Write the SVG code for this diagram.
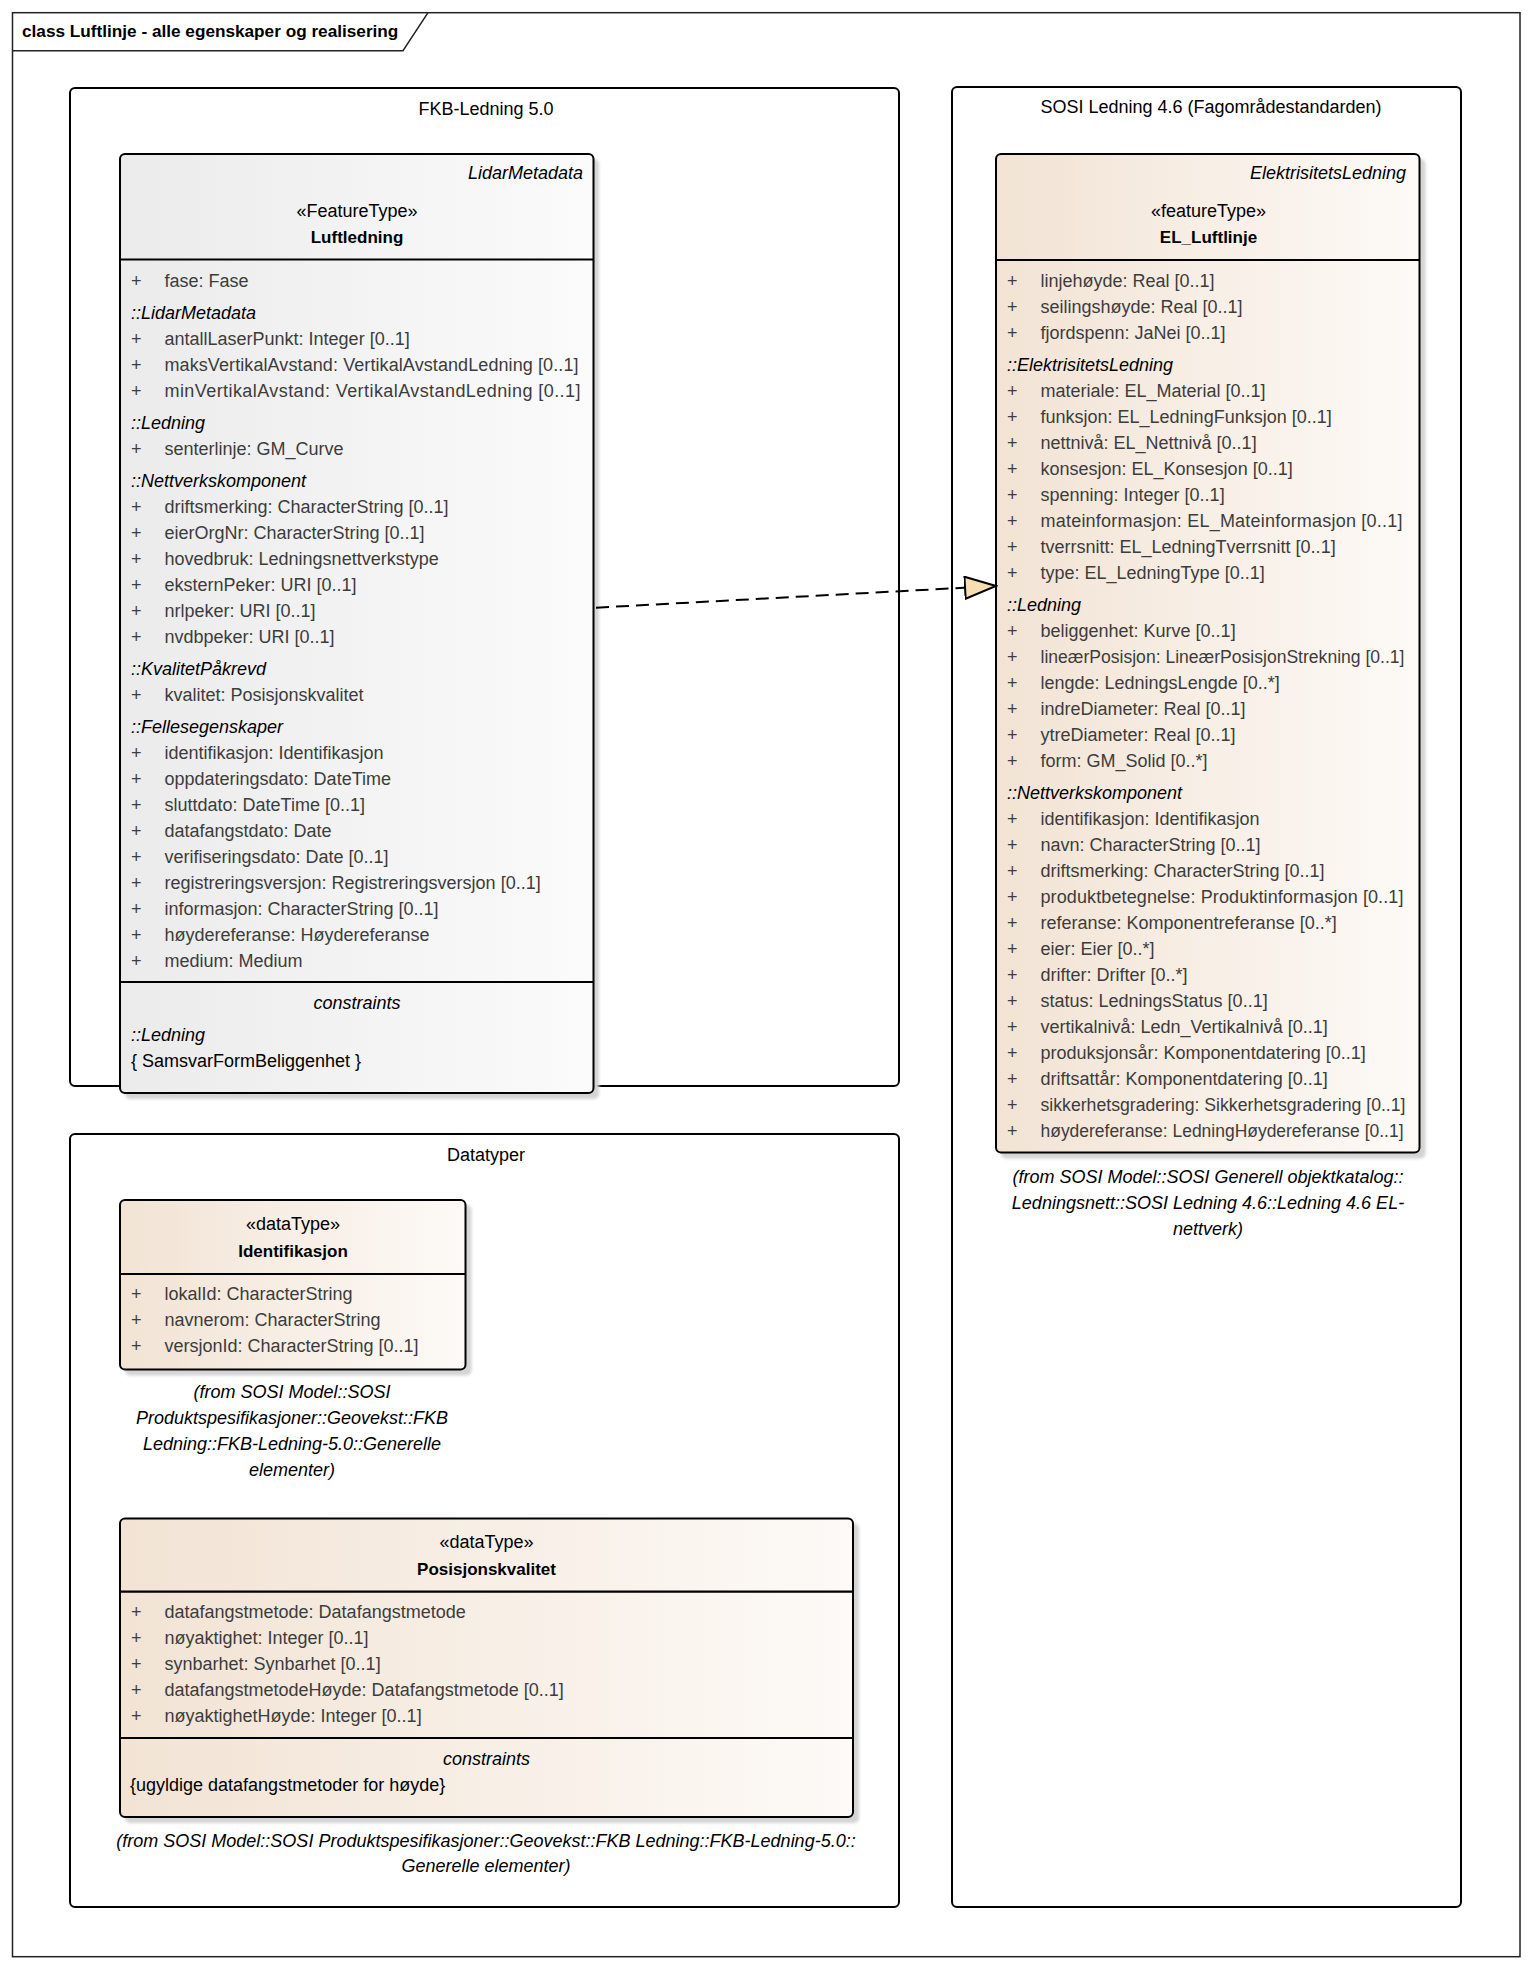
<svg xmlns="http://www.w3.org/2000/svg" width="1532" height="1968" viewBox="0 0 1532 1968">
<style>
text{font-family:"Liberation Sans",Arial,sans-serif;font-size:18px;fill:#000}
.a{fill:#3c3c3c}
.g{font-style:italic}
.c{text-anchor:middle}
.e{text-anchor:end;font-style:italic}
.b{font-weight:bold;font-size:17px;text-anchor:middle}
.t{font-weight:bold;font-size:17.2px}
.f{font-style:italic;text-anchor:middle}
.pkg{fill:none;stroke:#000;stroke-width:2}
.box{stroke:#000;stroke-width:2}
.sep{stroke:#000;stroke-width:2.2}
.sh{fill:#d4d4d4;filter:url(#blur)}
</style>
<defs>
<linearGradient id="gray" x1="0" y1="0" x2="1" y2="0"><stop offset="0" stop-color="#ebebeb"/><stop offset="1" stop-color="#fbfbfb"/></linearGradient>
<linearGradient id="beige" x1="0" y1="0" x2="1" y2="0"><stop offset="0" stop-color="#f2e3d4"/><stop offset="1" stop-color="#fdfaf7"/></linearGradient>
<filter id="blur" x="-5%" y="-5%" width="110%" height="110%"><feGaussianBlur stdDeviation="1.5"/></filter>
<marker id="real" markerWidth="34" markerHeight="26" refX="32" refY="12" orient="auto" markerUnits="userSpaceOnUse"><path d="M1,1 L32,12 L1,23 Z" fill="#f7deb2" stroke="#000" stroke-width="2"/></marker>
</defs>
<rect width="1532" height="1968" fill="#fff"/>
<g id="frame">
<rect x="12.5" y="12.7" width="1507.5" height="1944" fill="none" stroke="#222" stroke-width="1.5"/>
<path d="M428,12.7 L403,50.7 L12.5,50.7" fill="none" stroke="#222" stroke-width="1.5"/>
<text class="t" x="22" y="37">class Luftlinje - alle egenskaper og realisering</text>
</g>
<g id="pkg-fkb">
<rect class="pkg" x="70" y="88" width="829" height="998" rx="5"/>
<text class="c" x="486" y="115">FKB-Ledning 5.0</text>
</g>
<g id="pkg-sosi">
<rect class="pkg" x="952" y="87" width="509" height="1820" rx="5"/>
<text class="c" x="1211" y="113">SOSI Ledning 4.6 (Fagområdestandarden)</text>
</g>
<g id="pkg-datatyper">
<rect class="pkg" x="70" y="1134" width="829" height="773" rx="5"/>
<text class="c" x="486" y="1161">Datatyper</text>
</g>
<g id="Luftledning">
<rect class="sh" x="125" y="159" width="474" height="940" rx="5"/>
<rect class="box" x="120" y="154" width="473.5" height="939" rx="5" fill="url(#gray)"/>
<line class="sep" x1="120" y1="259.5" x2="593.5" y2="259.5"/>
<line class="sep" x1="120" y1="982" x2="593.5" y2="982"/>
<text class="e" x="583" y="179">LidarMetadata</text>
<text class="c" x="357" y="216.7">«FeatureType»</text>
<text class="b" x="357" y="242.7">Luftledning</text>
<g class="a">
<text class="a" x="131" y="286.7">+</text><text class="a" x="164.5" y="286.7">fase: Fase</text>
<text class="g" x="131" y="319">::LidarMetadata</text>
<text class="a" x="131" y="345">+</text><text class="a" x="164.5" y="345">antallLaserPunkt: Integer [0..1]</text>
<text class="a" x="131" y="371">+</text><text class="a" x="164.5" y="371" textLength="414" lengthAdjust="spacing">maksVertikalAvstand: VertikalAvstandLedning [0..1]</text>
<text class="a" x="131" y="397">+</text><text class="a" x="164.5" y="397" textLength="416" lengthAdjust="spacing">minVertikalAvstand: VertikalAvstandLedning [0..1]</text>
<text class="g" x="131" y="429">::Ledning</text>
<text class="a" x="131" y="455">+</text><text class="a" x="164.5" y="455">senterlinje: GM_Curve</text>
<text class="g" x="131" y="487">::Nettverkskomponent</text>
<text class="a" x="131" y="513">+</text><text class="a" x="164.5" y="513">driftsmerking: CharacterString [0..1]</text>
<text class="a" x="131" y="539">+</text><text class="a" x="164.5" y="539">eierOrgNr: CharacterString [0..1]</text>
<text class="a" x="131" y="565">+</text><text class="a" x="164.5" y="565">hovedbruk: Ledningsnettverkstype</text>
<text class="a" x="131" y="591">+</text><text class="a" x="164.5" y="591">eksternPeker: URI [0..1]</text>
<text class="a" x="131" y="617">+</text><text class="a" x="164.5" y="617">nrlpeker: URI [0..1]</text>
<text class="a" x="131" y="643">+</text><text class="a" x="164.5" y="643">nvdbpeker: URI [0..1]</text>
<text class="g" x="131" y="675">::KvalitetPåkrevd</text>
<text class="a" x="131" y="701">+</text><text class="a" x="164.5" y="701">kvalitet: Posisjonskvalitet</text>
<text class="g" x="131" y="733">::Fellesegenskaper</text>
<text class="a" x="131" y="759">+</text><text class="a" x="164.5" y="759">identifikasjon: Identifikasjon</text>
<text class="a" x="131" y="785">+</text><text class="a" x="164.5" y="785">oppdateringsdato: DateTime</text>
<text class="a" x="131" y="811">+</text><text class="a" x="164.5" y="811">sluttdato: DateTime [0..1]</text>
<text class="a" x="131" y="837">+</text><text class="a" x="164.5" y="837">datafangstdato: Date</text>
<text class="a" x="131" y="863">+</text><text class="a" x="164.5" y="863">verifiseringsdato: Date [0..1]</text>
<text class="a" x="131" y="889">+</text><text class="a" x="164.5" y="889">registreringsversjon: Registreringsversjon [0..1]</text>
<text class="a" x="131" y="915">+</text><text class="a" x="164.5" y="915">informasjon: CharacterString [0..1]</text>
<text class="a" x="131" y="941">+</text><text class="a" x="164.5" y="941">høydereferanse: Høydereferanse</text>
<text class="a" x="131" y="967">+</text><text class="a" x="164.5" y="967">medium: Medium</text>
</g>
<text class="f" x="357" y="1008.6">constraints</text>
<text class="g" x="131" y="1041">::Ledning</text>
<text x="131" y="1067">{ SamsvarFormBeliggenhet }</text>
</g>
<g id="EL_Luftlinje">
<rect class="sh" x="1001" y="159" width="424.5" height="999.5" rx="5"/>
<rect class="box" x="996" y="154" width="423.5" height="998.5" rx="5" fill="url(#beige)"/>
<line class="sep" x1="996" y1="260" x2="1419.5" y2="260"/>
<text class="e" x="1406" y="179">ElektrisitetsLedning</text>
<text class="c" x="1208.5" y="216.7">«featureType»</text>
<text class="b" x="1208.5" y="242.7">EL_Luftlinje</text>
<text class="a" x="1007" y="286.7">+</text><text class="a" x="1040.5" y="286.7">linjehøyde: Real [0..1]</text>
<text class="a" x="1007" y="312.7">+</text><text class="a" x="1040.5" y="312.7">seilingshøyde: Real [0..1]</text>
<text class="a" x="1007" y="338.7">+</text><text class="a" x="1040.5" y="338.7">fjordspenn: JaNei [0..1]</text>
<text class="g" x="1007" y="370.7">::ElektrisitetsLedning</text>
<text class="a" x="1007" y="396.7">+</text><text class="a" x="1040.5" y="396.7">materiale: EL_Material [0..1]</text>
<text class="a" x="1007" y="422.7">+</text><text class="a" x="1040.5" y="422.7">funksjon: EL_LedningFunksjon [0..1]</text>
<text class="a" x="1007" y="448.7">+</text><text class="a" x="1040.5" y="448.7">nettnivå: EL_Nettnivå [0..1]</text>
<text class="a" x="1007" y="474.7">+</text><text class="a" x="1040.5" y="474.7">konsesjon: EL_Konsesjon [0..1]</text>
<text class="a" x="1007" y="500.7">+</text><text class="a" x="1040.5" y="500.7">spenning: Integer [0..1]</text>
<text class="a" x="1007" y="526.7">+</text><text class="a" x="1040.5" y="526.7" textLength="362" lengthAdjust="spacing">mateinformasjon: EL_Mateinformasjon [0..1]</text>
<text class="a" x="1007" y="552.7">+</text><text class="a" x="1040.5" y="552.7">tverrsnitt: EL_LedningTverrsnitt [0..1]</text>
<text class="a" x="1007" y="578.7">+</text><text class="a" x="1040.5" y="578.7">type: EL_LedningType [0..1]</text>
<text class="g" x="1007" y="610.7">::Ledning</text>
<text class="a" x="1007" y="636.7">+</text><text class="a" x="1040.5" y="636.7">beliggenhet: Kurve [0..1]</text>
<text class="a" x="1007" y="662.7">+</text><text class="a" x="1040.5" y="662.7" textLength="364" lengthAdjust="spacingAndGlyphs">lineærPosisjon: LineærPosisjonStrekning [0..1]</text>
<text class="a" x="1007" y="688.7">+</text><text class="a" x="1040.5" y="688.7">lengde: LedningsLengde [0..*]</text>
<text class="a" x="1007" y="714.7">+</text><text class="a" x="1040.5" y="714.7">indreDiameter: Real [0..1]</text>
<text class="a" x="1007" y="740.7">+</text><text class="a" x="1040.5" y="740.7">ytreDiameter: Real [0..1]</text>
<text class="a" x="1007" y="766.7">+</text><text class="a" x="1040.5" y="766.7">form: GM_Solid [0..*]</text>
<text class="g" x="1007" y="798.7">::Nettverkskomponent</text>
<text class="a" x="1007" y="824.7">+</text><text class="a" x="1040.5" y="824.7">identifikasjon: Identifikasjon</text>
<text class="a" x="1007" y="850.7">+</text><text class="a" x="1040.5" y="850.7">navn: CharacterString [0..1]</text>
<text class="a" x="1007" y="876.7">+</text><text class="a" x="1040.5" y="876.7">driftsmerking: CharacterString [0..1]</text>
<text class="a" x="1007" y="902.7">+</text><text class="a" x="1040.5" y="902.7" textLength="363" lengthAdjust="spacing">produktbetegnelse: Produktinformasjon [0..1]</text>
<text class="a" x="1007" y="928.7">+</text><text class="a" x="1040.5" y="928.7">referanse: Komponentreferanse [0..*]</text>
<text class="a" x="1007" y="954.7">+</text><text class="a" x="1040.5" y="954.7">eier: Eier [0..*]</text>
<text class="a" x="1007" y="980.7">+</text><text class="a" x="1040.5" y="980.7">drifter: Drifter [0..*]</text>
<text class="a" x="1007" y="1006.7">+</text><text class="a" x="1040.5" y="1006.7">status: LedningsStatus [0..1]</text>
<text class="a" x="1007" y="1032.7">+</text><text class="a" x="1040.5" y="1032.7">vertikalnivå: Ledn_Vertikalnivå [0..1]</text>
<text class="a" x="1007" y="1058.7">+</text><text class="a" x="1040.5" y="1058.7">produksjonsår: Komponentdatering [0..1]</text>
<text class="a" x="1007" y="1084.7">+</text><text class="a" x="1040.5" y="1084.7">driftsattår: Komponentdatering [0..1]</text>
<text class="a" x="1007" y="1110.7">+</text><text class="a" x="1040.5" y="1110.7" textLength="365" lengthAdjust="spacingAndGlyphs">sikkerhetsgradering: Sikkerhetsgradering [0..1]</text>
<text class="a" x="1007" y="1136.7">+</text><text class="a" x="1040.5" y="1136.7" textLength="363" lengthAdjust="spacingAndGlyphs">høydereferanse: LedningHøydereferanse [0..1]</text>
<text class="f" x="1208" y="1182.7">(from SOSI Model::SOSI Generell objektkatalog::</text>
<text class="f" x="1208" y="1208.7">Ledningsnett::SOSI Ledning 4.6::Ledning 4.6 EL-</text>
<text class="f" x="1208" y="1234.7">nettverk)</text>
</g>
<g id="Identifikasjon">
<rect class="sh" x="125" y="1205" width="346.5" height="170.5" rx="5"/>
<rect class="box" x="120" y="1200" width="345.5" height="169.5" rx="5" fill="url(#beige)"/>
<line class="sep" x1="120" y1="1274" x2="465.5" y2="1274"/>
<text class="c" x="293" y="1230">«dataType»</text>
<text class="b" x="293" y="1256.7">Identifikasjon</text>
<text class="a" x="131" y="1300">+</text><text class="a" x="164.5" y="1300">lokalId: CharacterString</text>
<text class="a" x="131" y="1326">+</text><text class="a" x="164.5" y="1326">navnerom: CharacterString</text>
<text class="a" x="131" y="1352">+</text><text class="a" x="164.5" y="1352">versjonId: CharacterString [0..1]</text>
<text class="f" x="292" y="1398.3">(from SOSI Model::SOSI</text>
<text class="f" x="292" y="1424.3">Produktspesifikasjoner::Geovekst::FKB</text>
<text class="f" x="292" y="1450.3">Ledning::FKB-Ledning-5.0::Generelle</text>
<text class="f" x="292" y="1476.3">elementer)</text>
</g>
<g id="Posisjonskvalitet">
<rect class="sh" x="125" y="1523.5" width="734" height="299.5" rx="5"/>
<rect class="box" x="120" y="1518.5" width="733" height="298.5" rx="5" fill="url(#beige)"/>
<line class="sep" x1="120" y1="1591.7" x2="853" y2="1591.7"/>
<line class="sep" x1="120" y1="1738" x2="853" y2="1738"/>
<text class="c" x="486.5" y="1548.3">«dataType»</text>
<text class="b" x="486.5" y="1575">Posisjonskvalitet</text>
<text class="a" x="131" y="1618.3">+</text><text class="a" x="164.5" y="1618.3">datafangstmetode: Datafangstmetode</text>
<text class="a" x="131" y="1644.3">+</text><text class="a" x="164.5" y="1644.3">nøyaktighet: Integer [0..1]</text>
<text class="a" x="131" y="1670.3">+</text><text class="a" x="164.5" y="1670.3">synbarhet: Synbarhet [0..1]</text>
<text class="a" x="131" y="1696.3">+</text><text class="a" x="164.5" y="1696.3">datafangstmetodeHøyde: Datafangstmetode [0..1]</text>
<text class="a" x="131" y="1722.3">+</text><text class="a" x="164.5" y="1722.3">nøyaktighetHøyde: Integer [0..1]</text>
<text class="f" x="486.5" y="1765">constraints</text>
<text x="130" y="1790.7">{ugyldige datafangstmetoder for høyde}</text>
<text class="f" x="486" y="1846.7">(from SOSI Model::SOSI Produktspesifikasjoner::Geovekst::FKB Ledning::FKB-Ledning-5.0::</text>
<text class="f" x="486" y="1871.7">Generelle elementer)</text>
</g>
<g id="connectors">
<line x1="596" y1="607.7" x2="996" y2="586" stroke="#000" stroke-width="2" stroke-dasharray="13,7" marker-end="url(#real)"/>
</g>
</svg>
